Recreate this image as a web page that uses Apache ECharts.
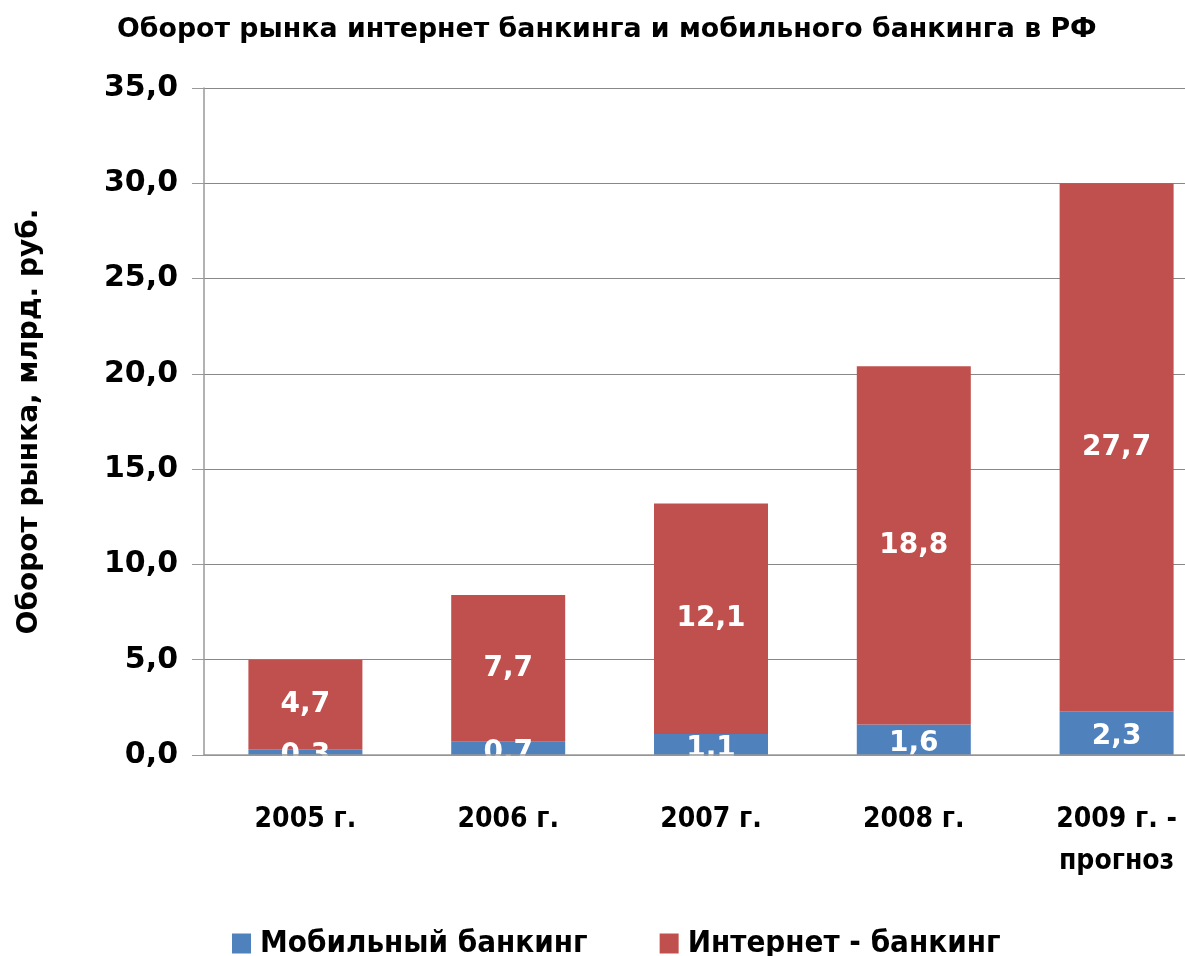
<!DOCTYPE html>
<html>
<head>
<meta charset="utf-8">
<script src="https://cdn.jsdelivr.net/npm/echarts@6/dist/echarts.min.js"></script>
<style>
  html, body { margin: 0; padding: 0; background: #fff; }
  #chart { width: 1185px; height: 956px; }
</style>
</head>
<body>
<div id="chart"></div>
<script>
var years = ['2005 г.', '2006 г.', '2007 г.', '2008 г.', '2009 г. -\nпрогноз'];
var mobile = [0.3, 0.7, 1.1, 1.6, 2.3];
var internet = [4.7, 7.7, 12.1, 18.8, 27.7];
var seriesNames = ['Мобильный банкинг', 'Интернет - банкинг'];

var font = '"DejaVu Sans", Verdana, sans-serif';
var narrow = '"DejaVu Sans Condensed", "DejaVu Sans", sans-serif';
var fmt = function (v) { return v.toFixed(1).replace('.', ','); };

var myChart = echarts.init(document.getElementById('chart'));

var option = {
  color: ['#4F81BD', '#C0504D'],
  animation: false,
  title: {
    text: 'Оборот рынка интернет банкинга и мобильного банкинга в РФ',
    left: 112,
    top: 12,
    textStyle: { fontFamily: font, fontWeight: 'bold', fontSize: 26.8, color: '#000' }
  },
  legend: {
    data: seriesNames,
    top: 923,
    left: 227,
    icon: 'rect',
    itemWidth: 19,
    itemHeight: 20,
    itemGap: 72,
    textStyle: {
      fontFamily: '"Liberation Sans Narrow", "DejaVu Sans Condensed", sans-serif',
      fontWeight: 'bold', fontSize: 31, color: '#000', padding: [0, 0, 0, 4]
    }
  },
  // the plot runs past the right edge of the picture, as in the original
  grid: { left: 204, width: 1014, top: 88, bottom: 201, outerBoundsMode: 'none' },
  xAxis: {
    type: 'category',
    data: years,
    z: 5,
    axisTick: { show: false },
    axisLine: { lineStyle: { color: '#999', width: 1.5 } },
    axisLabel: {
      margin: 44,
      lineHeight: 42,
      fontFamily: narrow, fontWeight: 'bold', fontSize: 28, color: '#000'
    }
  },
  yAxis: {
    type: 'value',
    min: 0,
    max: 35,
    interval: 5,
    name: 'Оборот рынка, млрд. руб.',
    nameLocation: 'middle',
    nameGap: 160,
    nameTextStyle: { fontFamily: font, fontWeight: 'bold', fontSize: 28, color: '#000' },
    axisLine: { show: true, lineStyle: { color: '#999', width: 1.5 } },
    axisTick: { show: true, length: 12, lineStyle: { color: '#999' } },
    splitLine: { lineStyle: { color: '#888', width: 1 } },
    axisLabel: {
      margin: 26,
      formatter: fmt,
      fontFamily: font, fontWeight: 'bold', fontSize: 30, color: '#000'
    }
  },
  series: [
    {
      name: seriesNames[0],
      type: 'bar',
      stack: 'total',
      barWidth: 114,
      data: mobile,
      label: {
        show: true, position: 'inside', offset: [0, 4],
        formatter: function (p) { return fmt(p.value); },
        fontFamily: font, fontWeight: 'bold', fontSize: 28, color: '#fff'
      }
    },
    {
      name: seriesNames[1],
      type: 'bar',
      stack: 'total',
      barWidth: 114,
      data: internet,
      label: {
        show: true, position: 'inside', formatter: function (p) { return fmt(p.value); },
        fontFamily: font, fontWeight: 'bold', fontSize: 28, color: '#fff'
      }
    }
  ]
};

myChart.setOption(option);
</script>
</body>
</html>
